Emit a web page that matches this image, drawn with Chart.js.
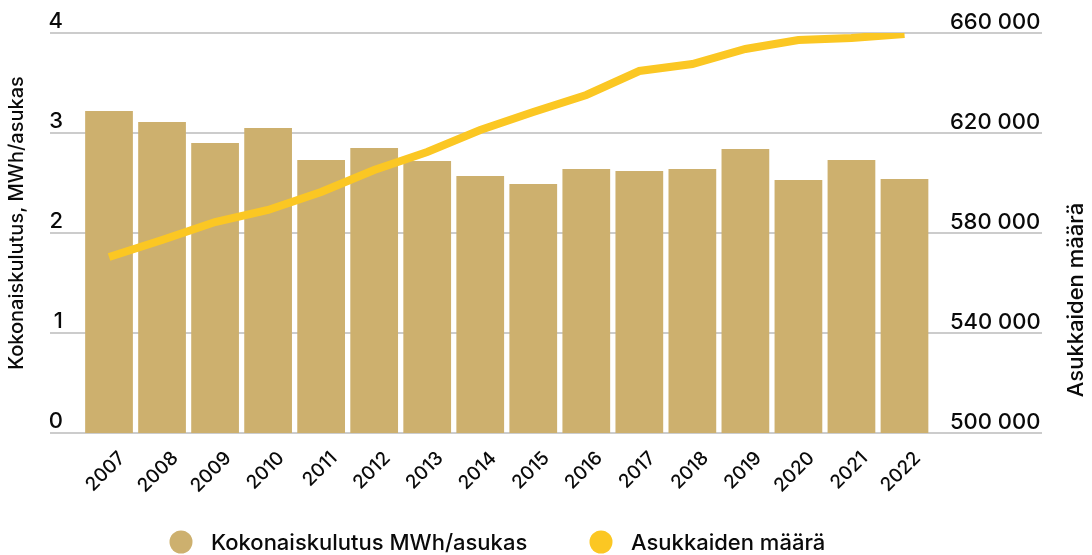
<!DOCTYPE html>
<html lang="fi">
<head>
    <meta charset="UTF-8">
    <title>Kokonaiskulutus ja asukkaiden määrä</title>
    <script src="https://cdn.jsdelivr.net/npm/chart.js"></script>
    <style>
        html, body { margin: 0; padding: 0; background: #ffffff; }
        #wrap { width: 1092px; height: 555px; }
    </style>
</head>
<body>
<div id="wrap"><canvas id="myChart" width="1092" height="555"></canvas></div>

<script>
    const years = ['2007', '2008', '2009', '2010', '2011', '2012', '2013', '2014',
                   '2015', '2016', '2017', '2018', '2019', '2020', '2021', '2022'];
    const consumption = [3.22, 3.11, 2.90, 3.05, 2.73, 2.85, 2.72, 2.57,
                         2.49, 2.64, 2.62, 2.64, 2.84, 2.53, 2.73, 2.54];
    const residents = [570400, 577200, 584400, 589200, 596400, 605200, 612400, 621200,
                       628400, 635200, 644800, 647600, 653600, 657200, 658000, 659600];

    const leftTitle = 'Kokonaiskulutus, MWh/asukas';
    const rightTitle = 'Asukkaiden määrä';
    const barName = 'Kokonaiskulutus MWh/asukas';
    const lineName = 'Asukkaiden määrä';

    const barColor = '#cdb06e';
    const lineColor = '#fbc723';
    const textColor = '#0a0a0a';
    const fontFamily = 'Inter, "Noto Sans", sans-serif';

    const fmtThousands = (v) => String(v).replace(/\B(?=(\d{3})+(?!\d))/g, ' ');

    // full-width grid lines, like in the original layout
    const gridPlugin = {
        id: 'wideGrid',
        beforeDatasetsDraw(chart) {
            const ctx = chart.ctx;
            const y = chart.scales.y;
            ctx.save();
            ctx.strokeStyle = '#cccccc';
            ctx.lineWidth = 2;
            y.ticks.forEach(t => {
                const py = Math.round(y.getPixelForValue(t.value));
                ctx.beginPath();
                ctx.moveTo(50, py);
                ctx.lineTo(1042, py);
                ctx.stroke();
            });
            ctx.restore();
        }
    };

    // axis titles (both read bottom-to-top) + legend row
    const textPlugin = {
        id: 'extraText',
        afterDraw(chart) {
            const ctx = chart.ctx;
            ctx.save();
            ctx.fillStyle = textColor;
            ctx.textAlign = 'center';
            ctx.textBaseline = 'middle';

            ctx.font = '500 20px ' + fontFamily;
            ctx.save();
            ctx.translate(17, 223);
            ctx.rotate(-Math.PI / 2);
            ctx.fillText(leftTitle, 0, 0);
            ctx.restore();

            ctx.font = '500 22px ' + fontFamily;
            ctx.save();
            ctx.translate(1076, 300);
            ctx.rotate(-Math.PI / 2);
            ctx.fillText(rightTitle, 0, 0);
            ctx.restore();

            // legend
            const items = [
                { name: barName, color: barColor, cx: 181 },
                { name: lineName, color: lineColor, cx: 601 }
            ];
            ctx.textAlign = 'left';
            items.forEach(it => {
                ctx.fillStyle = it.color;
                ctx.beginPath();
                ctx.arc(it.cx, 542, 11.5, 0, Math.PI * 2);
                ctx.fill();
                ctx.fillStyle = textColor;
                ctx.fillText(it.name, it.cx + 30, 543);
            });
            ctx.restore();
        }
    };

    const ctx = document.getElementById('myChart').getContext('2d');

    new Chart(ctx, {
        type: 'bar',
        data: {
            labels: years,
            datasets: [
                {
                    type: 'line',
                    label: lineName,
                    data: residents,
                    yAxisID: 'y1',
                    borderColor: lineColor,
                    backgroundColor: lineColor,
                    borderWidth: 8,
                    pointRadius: 0,
                    tension: 0,
                    order: 0
                },
                {
                    label: barName,
                    data: consumption,
                    yAxisID: 'y',
                    backgroundColor: barColor,
                    barPercentage: 0.9,
                    categoryPercentage: 1.0,
                    order: 1
                }
            ]
        },
        options: {
            responsive: false,
            animation: false,
            layout: { padding: { top: 33, bottom: 0, left: 0, right: 0 } },
            plugins: {
                legend: { display: false },
                tooltip: { enabled: false }
            },
            scales: {
                x: {
                    grid: { display: false },
                    border: { display: false },
                    ticks: {
                        color: textColor,
                        font: { family: fontFamily, size: 19, weight: '500' },
                        minRotation: 45,
                        maxRotation: 45,
                        autoSkip: false,
                        labelOffset: 13,
                        padding: 6
                    },
                    afterFit(scale) { scale.height = 122; }
                },
                y: {
                    position: 'left',
                    min: 0,
                    max: 4,
                    grid: { display: false, drawTicks: false },
                    border: { display: false },
                    ticks: {
                        stepSize: 1,
                        color: textColor,
                        font: { family: fontFamily, size: 22, weight: '500' },
                        crossAlign: 'near',
                        padding: 19.5,
                        labelOffset: -12
                    },
                    afterFit(scale) { scale.width = 82.5; }
                },
                y1: {
                    position: 'right',
                    min: 500000,
                    max: 660000,
                    grid: { display: false, drawTicks: false },
                    border: { display: false },
                    ticks: {
                        stepSize: 40000,
                        color: textColor,
                        font: { family: fontFamily, size: 22, weight: '500' },
                        crossAlign: 'near',
                        padding: 19,
                        labelOffset: -11,
                        callback: (v) => fmtThousands(v)
                    },
                    afterFit(scale) { scale.width = 161; }
                }
            }
        },
        plugins: [gridPlugin, textPlugin]
    });
</script>
</body>
</html>
